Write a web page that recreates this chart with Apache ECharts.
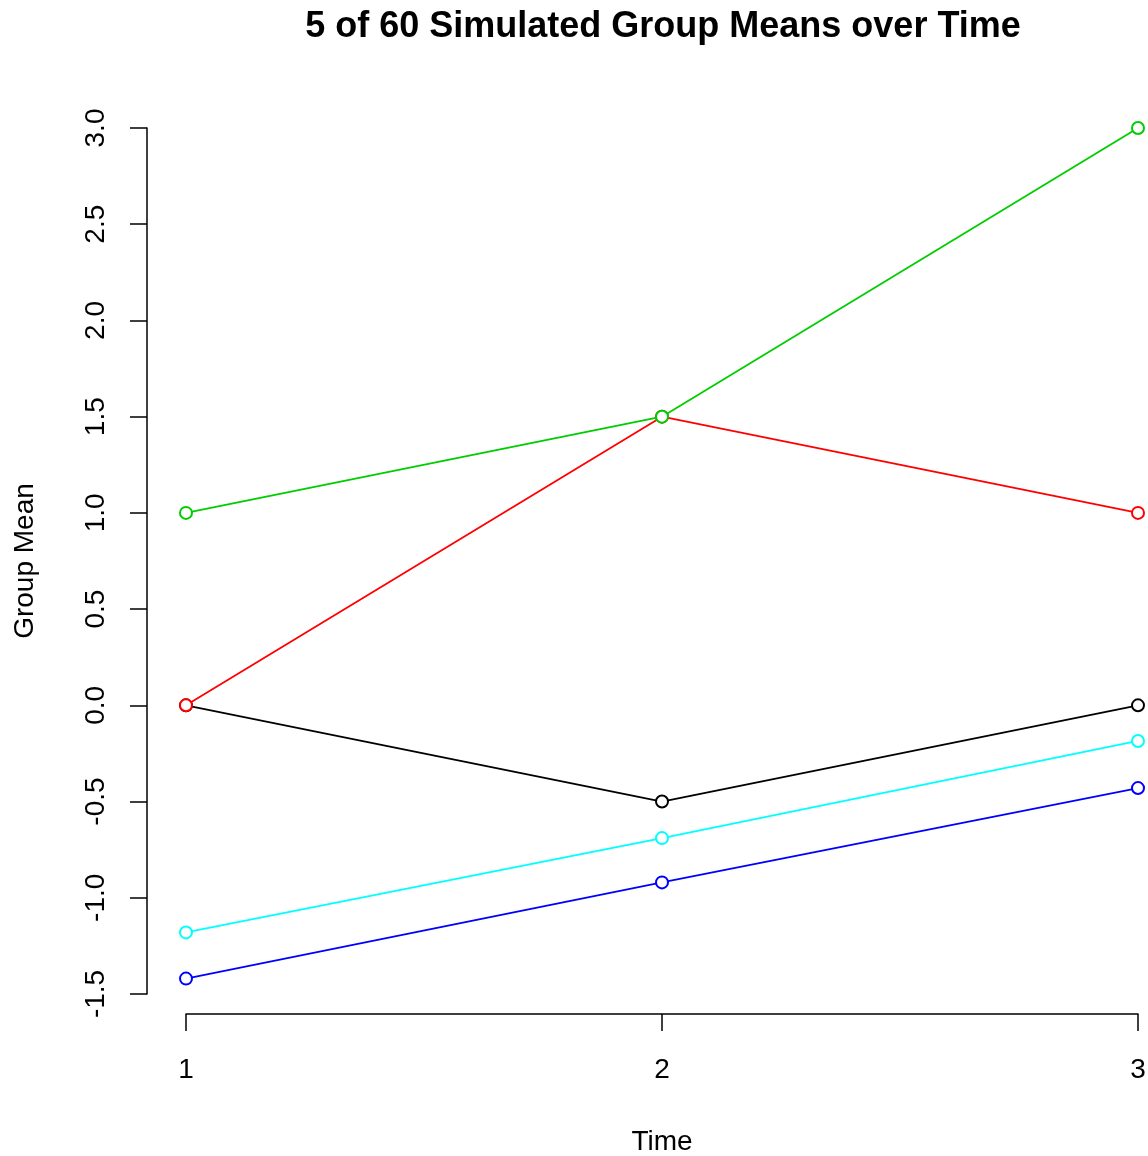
<!DOCTYPE html>
<html><head><meta charset="utf-8">
<script src="https://cdn.jsdelivr.net/npm/echarts@6/dist/echarts.min.js"></script>
<style>html,body{margin:0;padding:0;background:#fff}#c{width:1148px;height:1156px}</style>
</head><body><div id="c"></div>
<script>
const times = [1, 2, 3];
const yTicks = [-1.5, -1.0, -0.5, 0.0, 0.5, 1.0, 1.5, 2.0, 2.5, 3.0];
const seriesNames = ['Group A', 'Group B', 'Group C', 'Group D', 'Group E'];
const seriesColors = ['#000000', '#FF0000', '#00CD00', '#0000FF', '#00FFFF'];
const groupA = [0.0, -0.5, 0.0];
const groupB = [0.0, 1.5, 1.0];
const groupC = [1.0, 1.5, 3.0];
const groupD = [-1.42, -0.92, -0.43];
const groupE = [-1.18, -0.69, -0.185];
const allValues = [groupA, groupB, groupC, groupD, groupE];

const font = '"Liberation Sans", Arial, Helvetica, sans-serif';
const chart = echarts.init(document.getElementById('c'), null, {renderer: 'canvas'});
chart.setOption({
  animation: false,
  backgroundColor: '#ffffff',
  title: {
    text: '5 of 60 Simulated Group Means over Time',
    left: 658, top: 4, textAlign: 'center',
    textStyle: {fontFamily: font, fontSize: 36, fontWeight: 'bold', color: '#000'}
  },
  grid: {left: 186, right: 10, top: 128, bottom: 162, containLabel: false, outerBoundsMode: 'none'},
  xAxis: {
    type: 'value', min: 1, max: 3, interval: 1, offset: 20,
    name: 'Time', nameLocation: 'middle', nameGap: 114,
    nameTextStyle: {fontFamily: font, fontSize: 28, color: '#000'},
    axisLine: {show: true, onZero: false, lineStyle: {color: '#000', width: 1.5}},
    axisTick: {show: true, length: 17, lineStyle: {color: '#000', width: 1.5}},
    axisLabel: {fontFamily: font, fontSize: 28, color: '#000', margin: 42,
      formatter: v => times.includes(v) ? String(v) : ''},
    splitLine: {show: false}
  },
  yAxis: {
    type: 'value', min: -1.5, max: 3, interval: 0.5, offset: 39,
    name: 'Group Mean', nameLocation: 'middle', nameGap: 108,
    nameTextStyle: {fontFamily: font, fontSize: 28, color: '#000'},
    axisLine: {show: true, onZero: false, lineStyle: {color: '#000', width: 1.5}},
    axisTick: {show: true, length: 17, lineStyle: {color: '#000', width: 1.5}},
    axisLabel: {fontFamily: font, fontSize: 28, color: '#000', margin: 37, rotate: 90,
      formatter: v => {
        const t = yTicks.find(x => Math.abs(x - v) < 1e-9);
        return t === undefined ? '' : t.toFixed(1);
      }},
    splitLine: {show: false}
  },
  series: allValues.map((vals, i) => ({
    name: seriesNames[i],
    type: 'line',
    data: vals.map((v, j) => [times[j], v]),
    symbol: 'emptyCircle', symbolSize: 12,
    showSymbol: true,
    lineStyle: {color: seriesColors[i], width: 1.8},
    itemStyle: {color: seriesColors[i], borderColor: seriesColors[i], borderWidth: 2},
    z: 2 + i
  }))
});
</script></body></html>
